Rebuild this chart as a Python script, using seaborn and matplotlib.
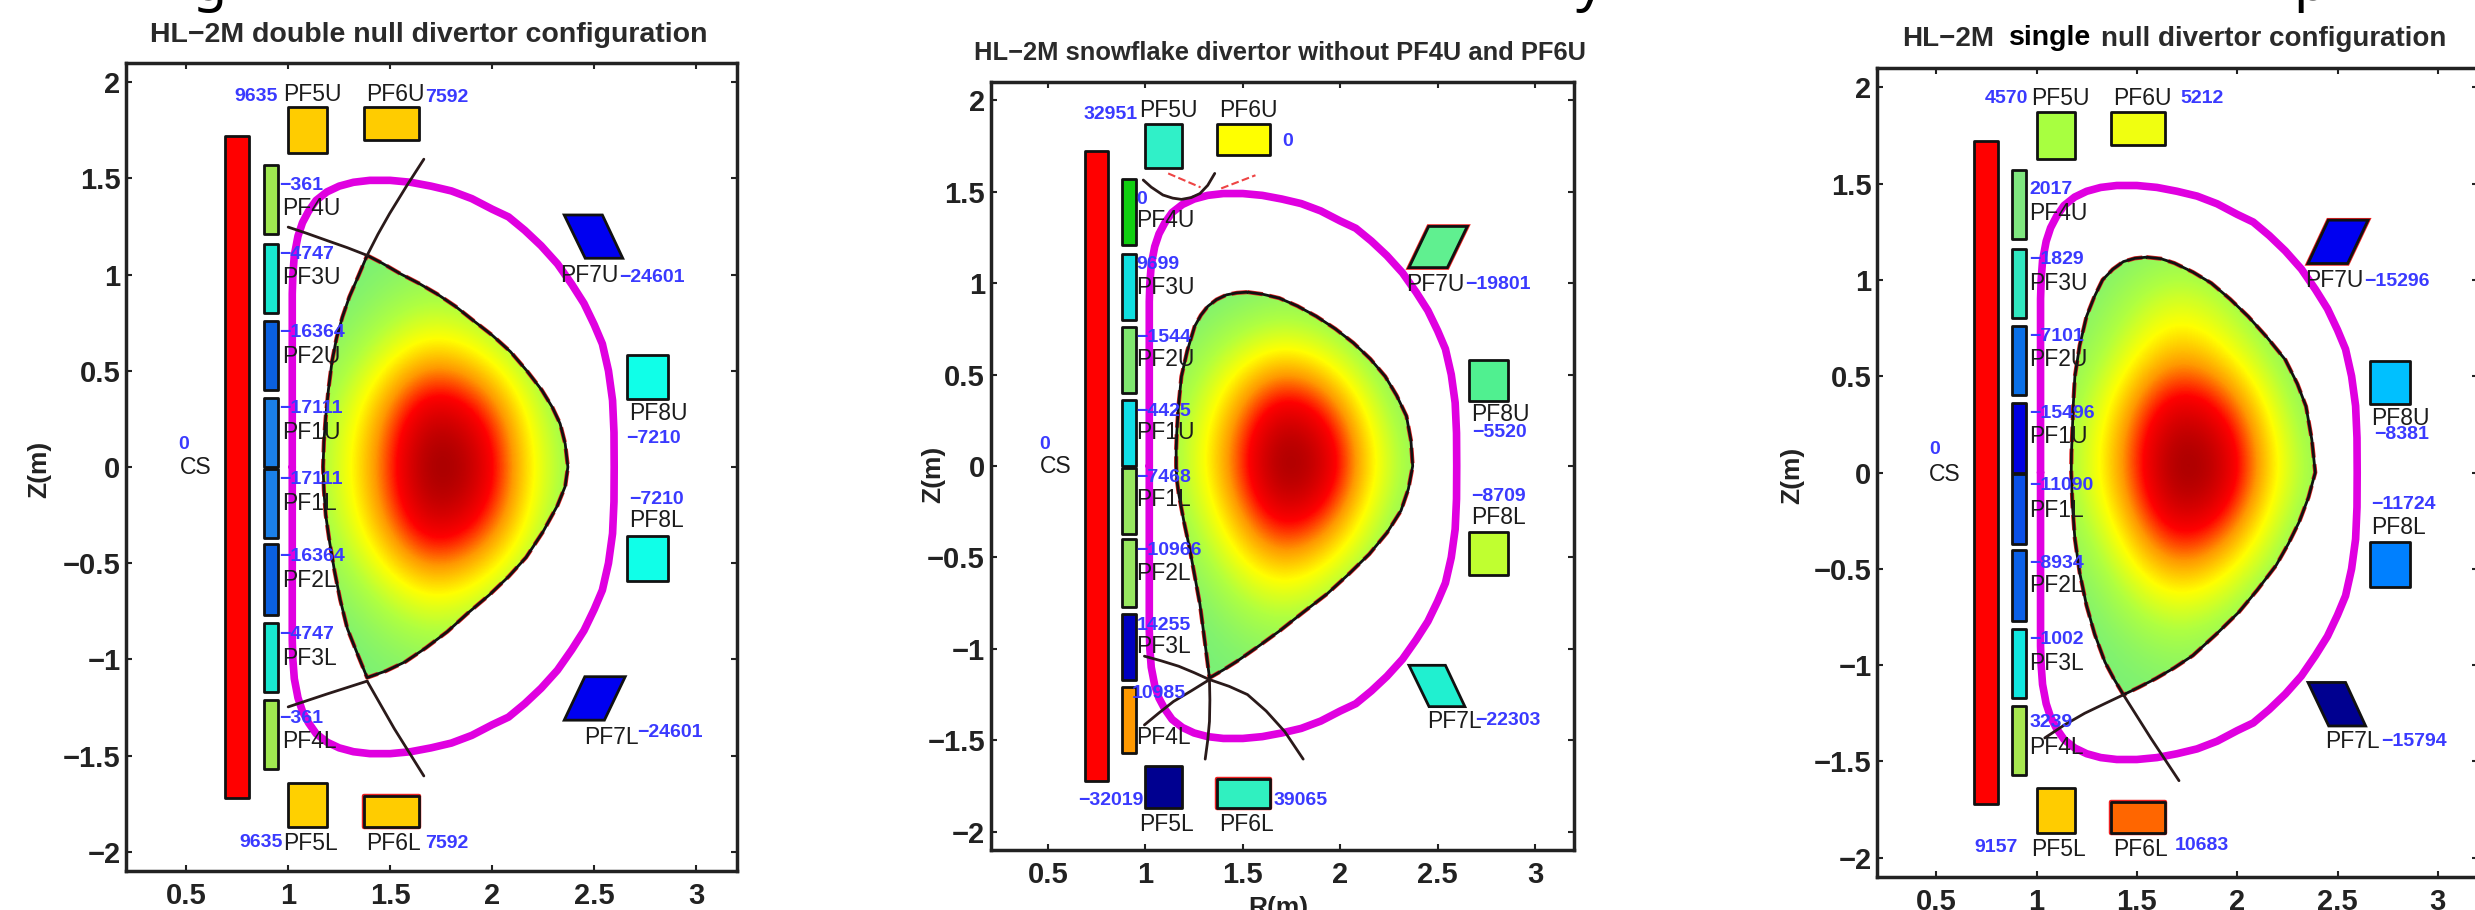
import seaborn as sns
import matplotlib.pyplot as plt
from matplotlib.colors import LinearSegmentedColormap
from matplotlib.patches import Polygon, Rectangle

W, H = 2475, 910

coil_names = ['CS', 'PF1U', 'PF1L', 'PF2U', 'PF2L', 'PF3U', 'PF3L', 'PF4U', 'PF4L',
              'PF5U', 'PF5L', 'PF6U', 'PF6L', 'PF7U', 'PF7L', 'PF8U', 'PF8L']

# coil outlines (R left, R right, Z bottom, Z top), the same machine in all three panels
coil_r0 = [0.69, 0.88, 0.88, 0.88, 0.88, 0.88, 0.88, 0.88, 0.88, 1.00, 1.00, 1.37, 1.37, 0, 0, 2.66, 2.66]
coil_r1 = [0.81, 0.95, 0.95, 0.95, 0.95, 0.95, 0.95, 0.95, 0.95, 1.19, 1.19, 1.64, 1.64, 0, 0, 2.86, 2.86]
coil_z0 = [-1.72, 0.00, -0.37, 0.40, -0.77, 0.80, -1.17, 1.21, -1.57, 1.63, -1.87, 1.70, -1.87, 0, 0, 0.355, -0.595]
coil_z1 = [1.72, 0.36, -0.01, 0.76, -0.40, 1.16, -0.81, 1.57, -1.21, 1.87, -1.64, 1.87, -1.71, 0, 0, 0.58, -0.36]

pf7_back_r = [2.456, 2.64, 2.54, 2.353]
pf7_fwd_r = [2.353, 2.55, 2.652, 2.454]
pf7_upper_z = [1.085, 1.085, 1.31, 1.31]
pf7_lower_z = [-1.316, -1.316, -1.09, -1.09]

vessel_r = [1.02, 1.02, 1.02, 1.023, 1.03, 1.048, 1.07, 1.10, 1.137, 1.19, 1.25, 1.32, 1.40, 1.50, 1.60, 1.70,
            1.80, 1.90, 2.00, 2.08, 2.16, 2.24, 2.32, 2.39, 2.45, 2.50, 2.54, 2.57, 2.59, 2.597, 2.598,
            2.597, 2.59, 2.57, 2.54, 2.50, 2.45, 2.39, 2.32, 2.24, 2.16, 2.08, 2.00, 1.90, 1.80, 1.70,
            1.60, 1.50, 1.40, 1.32, 1.25, 1.19, 1.137, 1.10, 1.07, 1.048, 1.03, 1.023, 1.02, 1.02, 1.02]
vessel_z = [0, 0.5, 0.9, 1.0, 1.1, 1.2, 1.27, 1.33, 1.386, 1.43, 1.46, 1.48, 1.49, 1.49, 1.48, 1.46,
            1.435, 1.395, 1.34, 1.30, 1.23, 1.15, 1.056, 0.95, 0.85, 0.74, 0.64, 0.50, 0.346, 0.18, 0,
            -0.18, -0.346, -0.50, -0.64, -0.74, -0.85, -0.95, -1.056, -1.15, -1.23, -1.30, -1.34, -1.395, -1.435, -1.46,
            -1.48, -1.49, -1.49, -1.48, -1.46, -1.43, -1.386, -1.33, -1.27, -1.2, -1.1, -1.0, -0.9, -0.5, 0]

# panel 1, double null
p1_plasma_r = [1.387, 1.46, 1.549, 1.64, 1.729, 1.82, 1.909, 2.0, 2.089, 2.17, 2.243, 2.295, 2.333, 2.358, 2.371,
               2.358, 2.32, 2.25, 2.166, 2.08, 1.986, 1.88, 1.78, 1.675, 1.575, 1.48, 1.387,
               1.335, 1.29, 1.255, 1.227, 1.203, 1.184, 1.175, 1.171, 1.175, 1.184, 1.197, 1.215, 1.237, 1.266, 1.30, 1.343, 1.387]
p1_plasma_z = [1.10, 1.06, 1.005, 0.955, 0.90, 0.835, 0.76, 0.685, 0.60, 0.50, 0.40, 0.31, 0.225, 0.12, 0,
               -0.10, -0.2, -0.335, -0.47, -0.57, -0.665, -0.76, -0.856, -0.94, -1.012, -1.06, -1.095,
               -0.96, -0.84, -0.69, -0.54, -0.39, -0.25, -0.12, 0, 0.13, 0.26, 0.40, 0.55, 0.67, 0.78, 0.885, 0.99, 1.10]
p1_legs = [([1.0, 1.09, 1.188, 1.29, 1.387], [1.247, 1.215, 1.178, 1.14, 1.10]),
           ([1.387, 1.44, 1.497, 1.58, 1.665], [1.10, 1.21, 1.317, 1.46, 1.60]),
           ([1.0, 1.19, 1.387], [-1.247, -1.18, -1.113]),
           ([1.387, 1.52, 1.665], [-1.113, -1.36, -1.606])]
p1_currents = [0, -17111, -17111, -16364, -16364, -4747, -4747, -361, -361, 9635, 9635, 7592, 7592,
               -24601, -24601, -7210, -7210]
p1_colors = ['#ff0000', '#1a80e8', '#1a80e8', '#0a60e0', '#0a60e0', '#18e8d0', '#18e8d0', '#a0e850', '#a0e850',
             '#ffcc00', '#ffd000', '#ffcc00', '#ffcc00', '#0000f0', '#0000f0', '#10ffe8', '#10ffe8']
p1_red_rims = ['PF6L']
p1_name_r = [0.469, 0.97, 0.97, 0.97, 0.97, 0.97, 0.97, 0.97, 0.97, 0.976, 0.976, 1.382, 1.382, 2.333, 2.449, 2.672, 2.672]
p1_name_z = [-0.005, 0.178, -0.188, 0.574, -0.592, 0.983, -0.998, 1.346, -1.429, 1.938, -1.958, 1.938, -1.958, 0.995, -1.408, 0.277, -0.28]
p1_val_r = [0.461, 0.958, 0.958, 0.958, 0.958, 0.958, 0.958, 0.958, 0.958, 0.734, 0.76, 1.67, 1.67, 2.623, 2.71, 2.659, 2.672]
p1_val_z = [0.116, 0.303, -0.066, 0.697, -0.465, 1.104, -0.873, 1.462, -1.307, 1.924, -1.95, 1.92, -1.958, 0.983, -1.38, 0.15, -0.167]
p1_field = [[0, 0, 0, 0.02, 0, 0, 0, 0],
            [0, 0, 0.08, 0.14, 0.10, 0, 0, 0],
            [0.02, 0.12, 0.30, 0.42, 0.36, 0.20, 0.02, 0],
            [0.08, 0.28, 0.55, 0.80, 0.70, 0.45, 0.15, 0],
            [0.10, 0.34, 0.62, 1.00, 0.90, 0.52, 0.22, 0.05],
            [0.08, 0.28, 0.55, 0.80, 0.70, 0.45, 0.15, 0],
            [0.02, 0.12, 0.30, 0.42, 0.36, 0.20, 0.02, 0],
            [0, 0, 0.08, 0.14, 0.10, 0, 0, 0],
            [0, 0, 0, 0.02, 0, 0, 0, 0]]

# panel 2, snowflake
p2_plasma_r = [1.524, 1.60, 1.6875, 1.78, 1.878, 1.975, 2.068, 2.155, 2.231, 2.29, 2.34, 2.363, 2.372, 2.35, 2.312,
               2.24, 2.149, 2.04, 1.932, 1.81, 1.6875, 1.575, 1.47, 1.40, 1.329,
               1.305, 1.28, 1.253, 1.226, 1.197, 1.171, 1.161, 1.158, 1.158, 1.161, 1.17, 1.185, 1.215, 1.253, 1.285, 1.32,
               1.365, 1.416, 1.47, 1.524]
p2_plasma_z = [0.951, 0.94, 0.918, 0.875, 0.818, 0.75, 0.673, 0.585, 0.49, 0.385, 0.273, 0.14, 0, -0.125, -0.244,
               -0.365, -0.482, -0.595, -0.70, -0.80, -0.903, -0.99, -1.068, -1.115, -1.159,
               -0.96, -0.756, -0.60, -0.445, -0.30, -0.152, -0.07, 0, 0.09, 0.18, 0.33, 0.49, 0.63, 0.764, 0.825, 0.873,
               0.91, 0.936, 0.947, 0.951]
p2_legs = [([0.995, 1.08, 1.171, 1.25, 1.329, 1.43, 1.524, 1.62, 1.715, 1.81],
            [-1.04, -1.065, -1.095, -1.13, -1.168, -1.205, -1.25, -1.34, -1.452, -1.603]),
           ([0.995, 1.07, 1.144, 1.235, 1.329], [-1.416, -1.35, -1.288, -1.23, -1.168]),
           ([1.329, 1.331, 1.329, 1.32, 1.307], [-1.168, -1.28, -1.397, -1.50, -1.603]),
           ([0.989, 1.03, 1.09, 1.14, 1.185, 1.235, 1.28, 1.32, 1.356],
            [1.564, 1.525, 1.482, 1.465, 1.458, 1.468, 1.49, 1.535, 1.60])]
p2_red_legs = [([1.117, 1.283], [1.60, 1.524]), ([1.389, 1.565], [1.518, 1.59])]
p2_currents = [0, -4425, -7468, -1544, -10966, 9699, 14255, 0, 10985, 32951, -32019, 0, 39065,
               -19801, -22303, -5520, -8709]
p2_colors = ['#ff0000', '#10e0e8', '#98e860', '#80e870', '#98e860', '#10e0e0', '#0000c0', '#10d010', '#ff9900',
             '#30f0c8', '#000090', '#ffff00', '#30f0c0', '#60f090', '#20f0d0', '#50f090', '#c0ff30']
p2_red_rims = ['PF6L', 'PF7U']
p2_name_r = [0.457, 0.954, 0.954, 0.954, 0.954, 0.954, 0.954, 0.954, 0.954, 0.967, 0.967, 1.38, 1.38, 2.34, 2.448, 2.671, 2.671]
p2_name_z = [-0.005, 0.182, -0.183, 0.582, -0.588, 0.978, -0.989, 1.345, -1.485, 1.945, -1.96, 1.945, -1.96, 0.995, -1.397, 0.282, -0.28]
p2_val_r = [0.457, 0.954, 0.954, 0.954, 0.954, 0.954, 0.954, 0.954, 0.932, 0.682, 0.655, 1.70, 1.66, 2.639, 2.693, 2.679, 2.671]
p2_val_z = [0.118, 0.296, -0.064, 0.70, -0.463, 1.104, -0.87, 1.46, -1.242, 1.92, -1.83, 1.776, -1.83, 0.995, -1.392, 0.182, -0.167]
p2_field = [[0, 0, 0, 0, 0, 0, 0, 0],
            [0, 0, 0.04, 0.08, 0.05, 0, 0, 0],
            [0.02, 0.14, 0.30, 0.40, 0.33, 0.16, 0, 0],
            [0.08, 0.28, 0.55, 0.78, 0.68, 0.40, 0.12, 0],
            [0.10, 0.34, 0.64, 1.00, 0.88, 0.50, 0.20, 0.05],
            [0.06, 0.24, 0.50, 0.72, 0.62, 0.36, 0.10, 0],
            [0, 0.10, 0.28, 0.38, 0.30, 0.14, 0, 0],
            [0, 0, 0.08, 0.13, 0.08, 0, 0, 0],
            [0, 0, 0, 0.02, 0, 0, 0, 0]]

# panel 3, single null
p3_plasma_r = [1.548, 1.62, 1.687, 1.78, 1.871, 1.965, 2.055, 2.15, 2.24, 2.30, 2.343, 2.372, 2.389, 2.355, 2.309,
               2.255, 2.194, 2.10, 2.009, 1.895, 1.779, 1.685, 1.594, 1.51, 1.433,
               1.385, 1.341, 1.29, 1.249, 1.215, 1.191, 1.179, 1.173, 1.174, 1.178, 1.183, 1.191, 1.215, 1.249, 1.287, 1.329,
               1.38, 1.433, 1.49, 1.548]
p3_plasma_z = [1.118, 1.11, 1.087, 1.04, 0.983, 0.90, 0.81, 0.70, 0.585, 0.46, 0.343, 0.17, 0, -0.13, -0.256,
               -0.37, -0.482, -0.61, -0.724, -0.84, -0.95, -1.015, -1.07, -1.115, -1.154,
               -1.07, -0.984, -0.84, -0.69, -0.52, -0.343, -0.17, 0, 0.10, 0.204, 0.35, 0.498, 0.66, 0.81, 0.91, 1.0,
               1.055, 1.095, 1.112, 1.118]
p3_legs = [([1.041, 1.14, 1.24, 1.34, 1.433], [-1.378, -1.31, -1.25, -1.20, -1.154]),
           ([1.433, 1.57, 1.71], [-1.154, -1.38, -1.60])]
p3_currents = [0, -15496, -11090, -7101, -8934, -1829, -1002, 2017, 3239, 4570, 9157, 5212, 10683,
               -15296, -15794, -8381, -11724]
p3_colors = ['#ff0000', '#0000e0', '#0a50e8', '#0a70e8', '#0a60e8', '#30e8c0', '#10e8e0', '#80e880', '#a8e850',
             '#a8ff40', '#ffcc00', '#f0ff10', '#ff6600', '#0000f0', '#000090', '#00c0ff', '#0080ff']
p3_red_rims = ['PF6L', 'PF7U']
p3_name_r = [0.465, 0.965, 0.965, 0.965, 0.965, 0.965, 0.965, 0.965, 0.965, 0.972, 0.972, 1.38, 1.38, 2.339, 2.44, 2.666, 2.666]
p3_name_z = [-0.009, 0.187, -0.196, 0.585, -0.589, 0.983, -0.993, 1.346, -1.426, 1.943, -1.955, 1.943, -1.955, 0.995, -1.397, 0.282, -0.288]
p3_val_r = [0.465, 0.965, 0.965, 0.965, 0.965, 0.965, 0.965, 0.965, 0.965, 0.742, 0.689, 1.717, 1.691, 2.631, 2.717, 2.682, 2.666]
p3_val_z = [0.118, 0.308, -0.069, 0.706, -0.473, 1.104, -0.868, 1.467, -1.30, 1.94, -1.946, 1.943, -1.938, 0.991, -1.395, 0.196, -0.166]
p3_field = [[0, 0, 0.02, 0.04, 0.02, 0, 0, 0],
            [0, 0.05, 0.18, 0.28, 0.20, 0.06, 0, 0],
            [0.03, 0.15, 0.35, 0.48, 0.40, 0.22, 0.03, 0],
            [0.08, 0.28, 0.58, 0.82, 0.72, 0.44, 0.14, 0],
            [0.10, 0.34, 0.64, 1.00, 0.90, 0.52, 0.22, 0.05],
            [0.06, 0.22, 0.50, 0.72, 0.62, 0.36, 0.10, 0],
            [0, 0.08, 0.27, 0.38, 0.30, 0.14, 0, 0],
            [0, 0, 0.07, 0.12, 0.07, 0, 0, 0],
            [0, 0, 0, 0.02, 0, 0, 0, 0]]

field_cmap = LinearSegmentedColormap.from_list(
    'plasma_field', [(0, '#78f078'), (0.18, '#b0ff40'), (0.34, '#ffff00'), (0.5, '#ff9900'),
                     (0.66, '#ff0000'), (1, '#800000')])

x_ticks = [0.5, 1, 1.5, 2, 2.5, 3]
y_ticks = [-2, -1.5, -1, -0.5, 0, 0.5, 1, 1.5, 2]
y_labels = ['\u22122', '\u22121.5', '\u22121', '\u22120.5', '0', '0.5', '1', '1.5', '2']

sns.set_style('white')
plt.rcParams['font.family'] = ['Liberation Sans', 'DejaVu Sans']
fig = plt.figure(figsize=(W / 100, H / 100), dpi=100, facecolor='white')


def panel(box, plasma_r, plasma_z, legs, field, colors, red_rims, currents, name_r, name_z, val_r, val_z, pf7_r):
    left, right, top, bottom = box
    ax = fig.add_axes([left / W, 1 - bottom / H, (right - left) / W, (bottom - top) / H])

    im = ax.imshow(field, cmap=field_cmap, vmin=0, vmax=1, extent=[1.0, 2.6, -1.35, 1.35],
                   interpolation='bicubic', aspect='auto', zorder=1)
    clip = Polygon(list(zip(plasma_r, plasma_z)), closed=True, transform=ax.transData)
    im.set_clip_path(clip)

    sns.lineplot(x=vessel_r, y=vessel_z, sort=False, estimator=None, color='#e000e0', lw=5.5, ax=ax, zorder=2)
    # the red dashed target contour only peeks out from under the black one
    sns.lineplot(x=plasma_r, y=plasma_z, sort=False, estimator=None, color='#dd2222', lw=3, ls='--', ax=ax, zorder=2.5)
    sns.lineplot(x=plasma_r, y=plasma_z, sort=False, estimator=None, color='#111111', lw=2, ax=ax, zorder=3)
    for leg_r, leg_z in legs:
        sns.lineplot(x=leg_r, y=leg_z, sort=False, estimator=None, color='#2a1a1a', lw=2, ax=ax, zorder=3)

    for i, name in enumerate(coil_names):
        if name == 'PF7U' or name == 'PF7L':
            continue
        corner = (coil_r0[i], coil_z0[i])
        dr, dz = coil_r1[i] - coil_r0[i], coil_z1[i] - coil_z0[i]
        if name in red_rims:
            ax.add_patch(Rectangle(corner, dr, dz, fc='none', ec='#ee2222', lw=3.2, joinstyle='round', zorder=3.8))
        ax.add_patch(Rectangle(corner, dr, dz, fc=colors[i], ec='#111111', lw=2, joinstyle='round', zorder=4))
    # PF7 coils are parallelograms, leaning one way in panel 1 and the other in panels 2 and 3
    i_u, i_l = coil_names.index('PF7U'), coil_names.index('PF7L')
    if 'PF7U' in red_rims:
        ax.add_patch(Polygon(list(zip(pf7_r[0], pf7_upper_z)), fc='none', ec='#ee2222', lw=3.2, zorder=3.8))
    ax.add_patch(Polygon(list(zip(pf7_r[0], pf7_upper_z)), fc=colors[i_u], ec='#111111', lw=2, zorder=4))
    ax.add_patch(Polygon(list(zip(pf7_r[1], pf7_lower_z)), fc=colors[i_l], ec='#111111', lw=2, zorder=4))

    for i, name in enumerate(coil_names):
        ax.text(name_r[i], name_z[i], name, fontsize=16.5, color='#1c1c1c', ha='left', va='center', zorder=6)
        ax.text(val_r[i], val_z[i], str(currents[i]).replace('-', '\u2212'), fontsize=14, color='#3a3aff',
                fontweight='bold', ha='left', va='center', zorder=5)

    ax.set_xlim(0.205, 3.2)
    ax.set_ylim(-2.1, 2.1)
    ax.set_xticks(x_ticks)
    ax.set_xticklabels(['0.5', '1', '1.5', '2', '2.5', '3'], fontweight='bold')
    ax.set_yticks(y_ticks)
    ax.set_yticklabels(y_labels, fontweight='bold')
    ax.tick_params(direction='in', length=4, width=1.5, top=True, right=True, bottom=True, left=True,
                   labelsize=21, labelcolor='#222222', color='#222222')
    ax.tick_params(axis='x', pad=8)
    ax.tick_params(axis='y', pad=4)
    for s in ax.spines.values():
        s.set_visible(True)
        s.set_linewidth(2.5)
        s.set_color('#222222')
    ax.set_xlabel('')
    ax.set_ylabel('')
    return ax


ax1 = panel((126, 737, 63, 871), p1_plasma_r, p1_plasma_z, p1_legs, p1_field, p1_colors, p1_red_rims, p1_currents,
            p1_name_r, p1_name_z, p1_val_r, p1_val_z, (pf7_back_r, pf7_fwd_r))
ax2 = panel((990.5, 1574, 82, 850), p2_plasma_r, p2_plasma_z, p2_legs, p2_field, p2_colors, p2_red_rims, p2_currents,
            p2_name_r, p2_name_z, p2_val_r, p2_val_z, (pf7_fwd_r, pf7_back_r))
ax3 = panel((1877, 2478, 68, 877), p3_plasma_r, p3_plasma_z, p3_legs, p3_field, p3_colors, p3_red_rims, p3_currents,
            p3_name_r, p3_name_z, p3_val_r, p3_val_z, (pf7_fwd_r, pf7_back_r))

for leg_r, leg_z in p2_red_legs:
    sns.lineplot(x=leg_r, y=leg_z, sort=False, estimator=None, color='#ee4444', lw=1.5, ls='--', ax=ax2, zorder=2)


def px_text(x, y, s, **kw):
    fig.text(x / W, 1 - y / H, s, **kw)


title_kw = dict(fontweight='bold', color='#2a2a2a', va='center', ha='left')
px_text(150, 35, 'HL\u22122M double null divertor configuration', fontsize=20.5, **title_kw)
px_text(974, 53, 'HL\u22122M snowflake divertor without PF4U and PF6U', fontsize=18.4, **title_kw)
px_text(1902, 39, 'HL\u22122M', fontsize=20, **title_kw)
px_text(2009, 38, 'single', fontsize=20.5, fontweight='bold', color='black', va='center', ha='left')
px_text(2101, 39, 'null divertor configuration', fontsize=20, **title_kw)

ylabel_kw = dict(fontsize=19, fontweight='bold', color='#222222', rotation=90, ha='center', va='center')
px_text(39, 469, 'Z(m)', **ylabel_kw)
px_text(933, 474, 'Z(m)', **ylabel_kw)
px_text(1792, 475, 'Z(m)', **ylabel_kw)
px_text(1278, 908, 'R(m)', fontsize=19, fontweight='bold', color='#222222', ha='center', va='center')

# the caption line above the panels is cut off by the crop, only these tails show
cap_kw = dict(fontsize=40, color='black', family=['Noto Sans', 'DejaVu Sans'], ha='center', va='baseline')
px_text(210, 0, 'g', **cap_kw)
px_text(1590, 0, 'y', **cap_kw)
px_text(2310, 0, 'p', **cap_kw)

fig.savefig('out.png', dpi=100)
